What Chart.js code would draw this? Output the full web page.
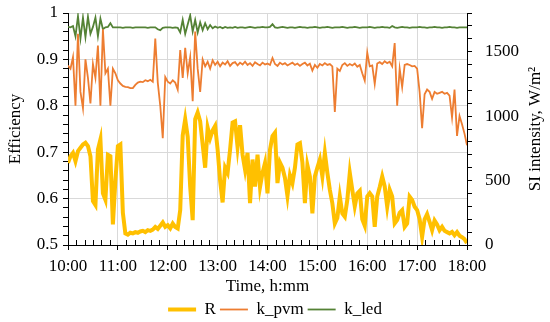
<!DOCTYPE html>
<html>
<head>
<meta charset="utf-8">
<script src="https://cdn.jsdelivr.net/npm/chart.js@4.4.1/dist/chart.umd.min.js"></script>
<style>
  body { margin: 0; background: #fff; }
  #wrap { width: 550px; height: 322px; }
</style>
</head>
<body>
<div id="wrap"><canvas id="effChart"></canvas></div>
<script>
// sampling grid: minutes after 10:00, every 3 min
var times = Array.from({ length: 161 }, (_, i) => i * 3);

// R, solar irradiance (W/m²), right axis
var rValues = [
    637, 689, 715, 650, 728, 754, 780, 793, 767, 689,
    340, 310, 740, 819, 400, 350, 700, 689, 160, 500,
    767, 780, 250, 90, 80, 95, 90, 100, 95, 105,
    110, 100, 115, 110, 120, 140, 125, 150, 175, 141,
    154, 130, 167, 140, 128, 271, 850, 976, 840, 450,
    193, 976, 1028, 960, 780, 600, 910, 830, 890, 924,
    740, 500, 330, 600, 560, 741, 950, 960, 760, 930,
    700, 584, 715, 324, 663, 454, 700, 450, 560, 637,
    400, 740, 845, 871, 480, 640, 600, 520, 380, 540,
    480, 600, 780, 790, 640, 324, 620, 532, 245, 532,
    600, 663, 532, 715, 560, 428, 324, 167, 210, 376,
    245, 219, 350, 560, 428, 300, 400, 420, 200, 150,
    376, 402, 376, 141, 376, 450, 532, 454, 297, 428,
    376, 167, 193, 250, 271, 141, 167, 376, 350, 297,
    271, 200, 63, 200, 240, 180, 115, 190, 160, 115,
    141, 110, 100, 90, 102, 76, 100, 72, 60, 45,
    15
];

// k_pvm efficiency, left axis
var kPvm = [
    0.887, 0.880, 0.905, 0.800, 0.955, 0.830, 0.795, 0.900, 0.860, 0.805,
    0.890, 0.860, 0.930, 0.800, 0.965, 0.870, 0.880, 0.800, 0.880, 0.870,
    0.855, 0.848, 0.843, 0.841, 0.840, 0.838, 0.838, 0.845, 0.850, 0.852,
    0.851, 0.855, 0.853, 0.856, 0.852, 0.945, 0.850, 0.800, 0.730, 0.862,
    0.852, 0.848, 0.855, 0.850, 0.835, 0.920, 0.860, 0.925, 0.870, 0.905,
    0.810, 0.960, 0.880, 0.830, 0.900, 0.885, 0.895, 0.880, 0.898, 0.888,
    0.895, 0.885, 0.893, 0.889, 0.896, 0.886, 0.892, 0.894, 0.887, 0.893,
    0.889, 0.895, 0.888, 0.892, 0.886, 0.894, 0.890, 0.887, 0.893, 0.889,
    0.891, 0.888, 0.903, 0.890, 0.886, 0.893, 0.889, 0.892, 0.887, 0.890,
    0.893, 0.888, 0.891, 0.886, 0.890, 0.893, 0.887, 0.891, 0.876, 0.888,
    0.882, 0.890, 0.887, 0.892, 0.888, 0.890, 0.885, 0.787, 0.880, 0.875,
    0.888, 0.892, 0.886, 0.890, 0.887, 0.891, 0.884, 0.888, 0.870, 0.854,
    0.915, 0.885, 0.887, 0.847, 0.891, 0.894, 0.890, 0.896, 0.892, 0.895,
    0.885, 0.935, 0.800, 0.880, 0.840, 0.888, 0.890, 0.888, 0.885, 0.886,
    0.880, 0.830, 0.752, 0.825, 0.835, 0.830, 0.815, 0.830, 0.826, 0.828,
    0.830, 0.826, 0.828, 0.822, 0.775, 0.835, 0.735, 0.778, 0.760, 0.740,
    0.715
];

// k_led efficiency, left axis
var kLed = [
    0.970, 0.969, 0.972, 0.950, 0.993, 0.945, 0.990, 0.948, 0.992, 0.955,
    0.970, 0.990, 0.950, 0.988, 0.965, 0.969, 0.970, 0.978, 0.969, 0.969,
    0.969, 0.969, 0.968, 0.969, 0.969, 0.969, 0.968, 0.969, 0.969, 0.969,
    0.969, 0.969, 0.968, 0.969, 0.969, 0.969, 0.965, 0.963, 0.968, 0.969,
    0.969, 0.969, 0.968, 0.969, 0.968, 0.958, 0.985, 0.955, 0.975, 0.995,
    0.960, 0.985, 0.958, 0.980, 0.963, 0.978, 0.965, 0.974, 0.967, 0.971,
    0.968, 0.970, 0.967, 0.970, 0.968, 0.969, 0.968, 0.970, 0.968, 0.969,
    0.969, 0.968, 0.969, 0.970, 0.969, 0.968, 0.969, 0.969, 0.970, 0.969,
    0.969, 0.970, 0.976, 0.969, 0.968, 0.969, 0.970, 0.969, 0.968, 0.969,
    0.969, 0.968, 0.969, 0.970, 0.969, 0.969, 0.968, 0.969, 0.969, 0.970,
    0.969, 0.968, 0.969, 0.969, 0.970, 0.969, 0.968, 0.969, 0.969, 0.969,
    0.970, 0.969, 0.968, 0.969, 0.969, 0.970, 0.969, 0.968, 0.969, 0.969,
    0.969, 0.970, 0.969, 0.968, 0.969, 0.969, 0.970, 0.969, 0.969, 0.968,
    0.972, 0.969, 0.968, 0.969, 0.970, 0.969, 0.969, 0.968, 0.969, 0.969,
    0.969, 0.970, 0.969, 0.969, 0.968, 0.969, 0.969, 0.970, 0.969, 0.969,
    0.968, 0.969, 0.969, 0.970, 0.969, 0.969, 0.968, 0.969, 0.969, 0.969,
    0.969
];

var FONT = "'Liberation Serif', 'Times New Roman', serif";
var GRID = "#d9d9d9";

function pts(vals) {
    return vals.map((v, i) => ({ x: times[i], y: v }));
}
function isTenth(v) {
    return Math.abs(Math.round(v * 10) - v * 10) < 1e-6;
}
function fmtTime(m) {
    var h = 10 + Math.floor(m / 60);
    var mm = m % 60;
    return h + ":" + (mm < 10 ? "0" : "") + mm;
}
// keep tick labels from pushing the plot area around
function noPad(s) {
    s.paddingTop = 0; s.paddingBottom = 0; s.paddingLeft = 0; s.paddingRight = 0;
}

// minor x ticks pointing inward + right axis title (reads bottom-to-top)
var extras = {
    id: "extras",
    afterDraw(chart) {
        var c = chart.ctx, x = chart.scales.x, a = chart.chartArea;
        c.save();
        c.strokeStyle = "#000";
        c.lineWidth = 1;
        for (var m = 10; m < 480; m += 10) {
            if (m % 60 === 0) continue;
            var px = Math.round(x.getPixelForValue(m)) + 0.5;
            c.beginPath();
            c.moveTo(px, a.bottom);
            c.lineTo(px, a.bottom - 5);
            c.stroke();
        }
        c.translate(536, (a.top + a.bottom) / 2);
        c.rotate(-Math.PI / 2);
        c.fillStyle = "#000";
        c.font = "17px " + FONT;
        c.textAlign = "center";
        c.textBaseline = "middle";
        c.fillText("SI intensity, W/m²", 0, 0);
        c.restore();
    }
};

new Chart(document.getElementById("effChart"), {
    type: "line",
    data: {
        datasets: [
            { label: "R", data: pts(rValues), yAxisID: "y2", borderColor: "#FFC000", borderWidth: 4, order: 1 },
            { label: "k_pvm", data: pts(kPvm), yAxisID: "y", borderColor: "#ED7D31", borderWidth: 1.8, order: 2 },
            { label: "k_led", data: pts(kLed), yAxisID: "y", borderColor: "#548235", borderWidth: 1.8, order: 3 }
        ]
    },
    options: {
        animation: false,
        responsive: true,
        maintainAspectRatio: false,
        elements: { point: { radius: 0 }, line: { tension: 0 } },
        layout: { autoPadding: false, padding: { top: 13, right: 0, left: 0, bottom: -6 } },
        scales: {
            x: {
                type: "linear", min: 0, max: 480,
                ticks: {
                    stepSize: 10, autoSkip: false, maxRotation: 0, padding: 6,
                    color: "#000", font: { family: FONT, size: 17 },
                    callback: v => (v % 60 === 0 ? fmtTime(v) : "")
                },
                grid: {
                    color: ctx => (ctx.tick && ctx.tick.value % 60 === 0 ? GRID : "rgba(0,0,0,0)"),
                    tickColor: ctx => (ctx.tick && ctx.tick.value % 60 === 0 ? "#000" : "rgba(0,0,0,0)"),
                    tickLength: 5
                },
                border: { color: "#000", width: 1 },
                title: { display: true, text: "Time, h:mm", color: "#000", font: { family: FONT, size: 17 }, padding: { top: 2, bottom: 0 } },
                afterFit: s => { s.height = 52; noPad(s); }
            },
            y: {
                position: "left", min: 0.5, max: 1,
                ticks: {
                    stepSize: 0.02, autoSkip: false, padding: 5,
                    color: "#000", font: { family: FONT, size: 17 },
                    callback: v => (isTenth(v) ? String(Math.round(v * 10) / 10) : "")
                },
                grid: {
                    color: ctx => (ctx.tick && isTenth(ctx.tick.value) ? GRID : "rgba(0,0,0,0)"),
                    tickColor: "#000",
                    tickLength: 5
                },
                border: { color: "#000", width: 1 },
                title: { display: true, text: "Efficiency", color: "#000", font: { family: FONT, size: 17 }, padding: { top: 5, bottom: 0 } },
                afterFit: s => { s.width = 68; noPad(s); }
            },
            y2: {
                position: "right", min: 0, max: 1800,
                ticks: {
                    stepSize: 100, autoSkip: false, padding: 13,
                    color: "#000", font: { family: FONT, size: 17 },
                    callback: v => (v % 500 === 0 ? String(v) : "")
                },
                grid: { drawOnChartArea: false, tickColor: "#000", tickLength: 5 },
                border: { color: "#000", width: 1 },
                afterFit: s => { s.width = 83; noPad(s); }
            }
        },
        plugins: {
            legend: {
                position: "bottom",
                labels: {
                    usePointStyle: true, pointStyle: "line", pointStyleWidth: 28,
                    color: "#000", font: { family: FONT, size: 17 }, padding: 4, boxHeight: 10
                }
            },
            tooltip: { enabled: false }
        }
    },
    plugins: [extras]
});
</script>
</body>
</html>
